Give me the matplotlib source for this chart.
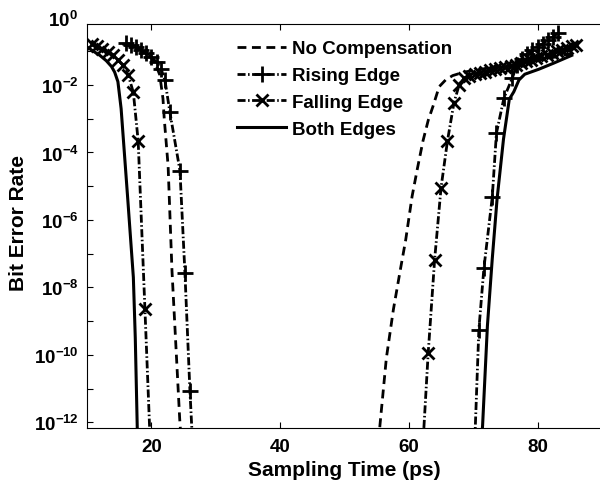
import numpy as np
import matplotlib
matplotlib.use('Agg')
import matplotlib.pyplot as plt
from matplotlib.ticker import FixedLocator, FixedFormatter, NullFormatter

plt.rcParams['font.family'] = 'Liberation Sans'
plt.rcParams['font.weight'] = 'bold'
plt.rcParams['mathtext.fontset'] = 'custom'
plt.rcParams['mathtext.rm'] = 'Liberation Sans:bold'
plt.rcParams['mathtext.bf'] = 'Liberation Sans:bold'
plt.rcParams['mathtext.it'] = 'Liberation Sans:bold'

# log10(BER), left and right eye edges
t_none_l = [15.5, 16.5, 17.5, 18.5, 19.5, 20.5, 21.3, 21.8, 22.0, 22.6, 23.2, 23.8, 24.4, 24.8]
e_none_l = [-0.78, -0.84, -0.9, -0.98, -1.1, -1.3, -1.7, -2.4, -3.0, -4.4, -7.5, -9.7, -11.9, -13.0]
t_none_r = [55.2, 55.5, 56.5, 57.6, 58.7, 59.5, 60.5, 61.3, 62.2, 63.0, 63.8, 64.7, 65.7, 66.8,
            68.5, 70.5, 73.0, 76.0, 79.0, 82.0, 85.5]
e_none_r = [-13.0, -12.1, -10.1, -8.65, -7.45, -6.6, -5.3, -4.5, -3.65, -3.05, -2.6, -2.05, -1.85, -1.72,
            -1.62, -1.55, -1.48, -1.4, -1.3, -1.2, -1.05]

t_rise_l = [16.0, 16.8, 17.6, 18.4, 19.2, 20.0, 20.8, 21.5, 22.1, 22.88, 24.44, 25.21, 25.99, 26.5]
e_rise_l = [-0.75, -0.8, -0.87, -0.95, -1.05, -1.17, -1.32, -1.52, -1.85, -2.81, -4.54, -7.56, -11.07, -13.0]
t_rise_r = [70.25, 70.87, 71.65, 72.95, 73.6, 74.76, 76.07, 76.8, 77.6, 78.4, 79.2, 80.0, 80.8,
            81.6, 82.4, 83.1]
e_rise_r = [-12.5, -9.26, -7.44, -5.33, -3.43, -2.39, -1.79, -1.4, -1.22, -1.08, -0.97, -0.87, -0.77,
            -0.67, -0.57, -0.47]

t_fall_l = [10.8, 11.6, 12.4, 13.2, 14.0, 14.8, 15.6, 16.4, 17.2, 17.95, 19.0, 19.9]
e_fall_l = [-0.78, -0.85, -0.93, -1.02, -1.12, -1.25, -1.42, -1.7, -2.22, -3.66, -8.65, -13.0]
t_fall_r = [62.2, 63.0, 64.0, 65.0, 66.0, 67.0, 67.8, 68.6, 69.4, 70.2, 71.0, 71.8, 72.6, 73.4,
            74.2, 75.0, 75.8, 76.6, 77.4, 78.2, 79.0, 79.8, 80.6, 81.4, 82.2, 83.0, 83.8, 84.6,
            85.4, 86.0]
e_fall_r = [-12.6, -9.95, -7.18, -5.04, -3.65, -2.53, -2.0, -1.8, -1.72, -1.68, -1.64, -1.6, -1.56,
            -1.52, -1.5, -1.47, -1.44, -1.4, -1.36, -1.3, -1.25, -1.2, -1.15, -1.1, -1.05, -1.0,
            -0.95, -0.9, -0.85, -0.8]

t_both_l = [10.0, 11.0, 12.0, 13.0, 13.8, 14.3, 14.8, 15.3, 16.3, 17.2, 17.5, 17.8, 17.9]
e_both_l = [-0.87, -1.0, -1.12, -1.28, -1.45, -1.62, -1.9, -2.7, -5.3, -7.7, -9.5, -12.1, -13.0]
t_both_r = [71.1, 71.45, 72.2, 72.95, 73.7, 74.7, 75.6, 76.3, 77.1, 78.0, 80.2, 82.5, 85.3]
e_both_r = [-13.0, -12.1, -9.14, -7.16, -5.38, -3.6, -2.42, -2.2, -1.85, -1.68, -1.53, -1.35, -1.12]

labels = ['No Compensation', 'Rising Edge', 'Falling Edge', 'Both Edges']
ytick_exp = [-12, -10, -8, -6, -4, -2]
xticks = [20, 40, 60, 80]

fs = 13.5
fs_lab = 15
fig = plt.figure(figsize=(6, 4.89), dpi=100)
ax = fig.add_axes([87/600, 1-429/489, 515/600, 404/489])

dash = (3.2, 2.0)
dashdot = (2.9, 0.9, 0.55, 0.9)
lw = 2.0

def ber(e):
    return 10.0 ** np.array(e)

h1, = ax.plot(t_none_l, ber(e_none_l), 'k', lw=lw, dashes=dash)
ax.plot(t_none_r, ber(e_none_r), 'k', lw=lw, dashes=dash)
h2, = ax.plot(t_rise_l, ber(e_rise_l), 'k', lw=lw, dashes=dashdot, marker='+', ms=11, mew=2)
ax.plot(t_rise_r, ber(e_rise_r), 'k', lw=lw, dashes=dashdot, marker='+', ms=11, mew=2)
h3, = ax.plot(t_fall_l, ber(e_fall_l), 'k', lw=lw, dashes=dashdot, marker='x', ms=8, mew=2)
ax.plot(t_fall_r, ber(e_fall_r), 'k', lw=lw, dashes=dashdot, marker='x', ms=8, mew=2)
h4, = ax.plot(t_both_l, ber(e_both_l), 'k', lw=2.2)
ax.plot(t_both_r, ber(e_both_r), 'k', lw=2.2)

ax.set_yscale('log')
ax.set_xlim(10, 90)
ax.set_ylim(10**-12.17, 10**-0.19)

ax.yaxis.set_major_locator(FixedLocator([10.0**e for e in ytick_exp]))
ax.yaxis.set_major_formatter(FixedFormatter([r'$\mathbf{10^{%d}}$' % e for e in ytick_exp]))
ax.yaxis.set_minor_locator(FixedLocator([10.0**e for e in range(-11, 0, 2)]))
ax.yaxis.set_minor_formatter(NullFormatter())
ax.set_xticks(xticks)
ax.set_xticklabels([str(v) for v in xticks])
ax.tick_params(which='both', direction='in', length=4.5, width=0.8, top=True, right=False,
               labelsize=fs)
ax.tick_params(axis='y', pad=6.0)
ax.tick_params(axis='x', pad=7.5)
ax.text(-0.017, 1.0, r'$\mathbf{10^{0}}$', transform=ax.get_yaxis_transform(),
        ha='right', va='center_baseline', fontsize=fs, clip_on=False)
for s in ax.spines.values():
    s.set_linewidth(0.8)
ax.spines['right'].set_visible(False)

ax.set_xlabel('Sampling Time (ps)', fontsize=fs_lab, fontweight='bold')
ax.xaxis.label.set_va('center')
ax.xaxis.set_label_coords(0.5, (429-470)/404)
ax.set_ylabel('Bit Error Rate', fontsize=fs_lab, fontweight='bold')
ax.yaxis.label.set_va('center')
ax.yaxis.set_label_coords((18.5-87)/515, 0.51)

ax.legend([h1, h2, h3, h4], labels, loc='upper left', bbox_to_anchor=(0.292, 0.96),
          frameon=False, borderpad=0, borderaxespad=0, handlelength=2.6, handletextpad=0.3,
          labelspacing=0.52, numpoints=1, fontsize=fs)

fig.savefig('out.png', dpi=100)
